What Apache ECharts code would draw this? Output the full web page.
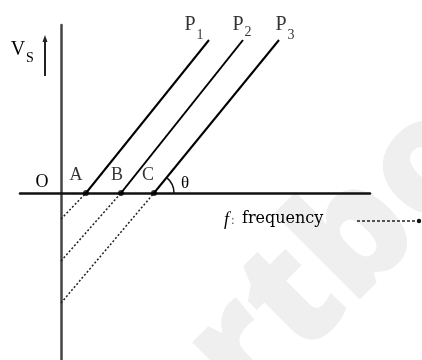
<!DOCTYPE html>
<html>
<head>
<meta charset="utf-8">
<script src="https://cdn.jsdelivr.net/npm/echarts@6/dist/echarts.min.js"></script>
<style>
  html, body { margin: 0; padding: 0; background: #fff; }
  #main { width: 422px; height: 360px; }
</style>
</head>
<body>
<div id="main"></div>
<script>
// stopping potential Vs against frequency f, three photo-surfaces P1..P3
// units: arbitrary
const plateNames = ['1', '2', '3'];
const pointNames = ['A', 'B', 'C'];
const thresholdF = [2.5, 6.0, 9.3];      // where each line cuts the f axis
const interceptV = [-2.6, -6.8, -11.0];  // where the dashed part meets the Vs axis
const topF = [14.8, 18.2, 21.8];         // upper end of each solid line
const topV = [15.3, 15.3, 15.3];

// label nudges (px), the scan does not place them uniformly
const plateLabelDx = [-19, -5, 2];
const plateSubDy = [7, 4, 7];
const pointLabelDx = [-10, -4, -6];

const chart = echarts.init(document.getElementById('main'));
const serif = '"Liberation Serif", "DejaVu Serif", serif';

const series = [];

// solid parts above the f axis
thresholdF.forEach((f0, i) => {
    series.push({
        type: 'line',
        data: [[f0, 0], [topF[i], topV[i]]],
        symbol: 'none',
        lineStyle: { color: '#000', width: 2 },
        z: 5
    });
    // dashed extension down to the Vs axis
    series.push({
        type: 'line',
        data: [[0, interceptV[i]], [f0, 0]],
        symbol: 'none',
        lineStyle: { color: '#222', width: 1.5, type: [2, 2] },
        z: 5
    });
});

// points A, B, C
series.push({
    type: 'scatter',
    data: thresholdF.map((f0, i) => ({
        value: [f0, 0],
        name: pointNames[i],
        label: { offset: [pointLabelDx[i], -1] }
    })),
    symbolSize: 6,
    itemStyle: { color: '#000' },
    label: {
        show: true,
        formatter: p => p.name,
        position: 'top',
        fontFamily: serif,
        fontSize: 18,
        color: '#000'
    },
    z: 6
});

// P labels at the upper ends
series.push({
    type: 'scatter',
    data: topF.map((f, i) => ({
        value: [f, topV[i]],
        name: plateNames[i],
        label: { offset: [plateLabelDx[i], 0] }
    })),
    symbolSize: 0,
    label: {
        show: true,
        formatter: 'P',
        position: 'top',
        fontFamily: serif,
        fontSize: 20,
        color: '#000'
    },
    z: 6
});
series.push({
    type: 'scatter',
    data: topF.map((f, i) => ({
        value: [f, topV[i]],
        name: plateNames[i],
        label: { offset: [plateLabelDx[i] + 10, plateSubDy[i]] }
    })),
    symbolSize: 0,
    label: {
        show: true,
        formatter: p => p.name,
        position: 'top',
        fontFamily: serif,
        fontSize: 14,
        color: '#000'
    },
    z: 6
});

// angle arc at C
series.push({
    type: 'custom',
    data: [[thresholdF[2], 0]],
    renderItem: (params, api) => {
        const c = api.coord([api.value(0), api.value(1)]);
        return {
            type: 'arc',
            shape: { cx: c[0], cy: c[1], r: 20, startAngle: -0.88, endAngle: 0 },
            style: { stroke: '#111', lineWidth: 1.5, fill: null }
        };
    },
    z: 6
});

const option = {
    animation: false,
    backgroundColor: '#fff',
    grid: { left: 20, right: 52, top: 25, bottom: 0 },
    xAxis: {
        type: 'value',
        min: -4.1,
        max: 30.9,
        axisLine: { show: true, onZero: true, lineStyle: { color: '#111', width: 2.5 } },
        axisTick: { show: false },
        axisLabel: { show: false },
        splitLine: { show: false }
    },
    yAxis: {
        type: 'value',
        min: -16.7,
        max: 16.8,
        axisLine: { show: true, onZero: true, lineStyle: { color: '#444', width: 2.5 } },
        axisTick: { show: false },
        axisLabel: { show: false },
        splitLine: { show: false }
    },
    graphic: [
        // watermark
        {
            type: 'text',
            x: 340, y: 255,
            rotation: Math.PI / 4,
            z: -10,
            style: {
                text: 'rtbo',
                font: '900 160px "Noto Sans", sans-serif',
                fill: '#efefef',
                align: 'center',
                verticalAlign: 'middle'
            }
        },
        { type: 'text', x: 42, y: 182, style: { text: 'O', font: '18px ' + serif, fill: '#000', align: 'center', verticalAlign: 'middle' } },
        { type: 'text', x: 185, y: 184, style: { text: 'θ', font: '17px ' + serif, fill: '#000', align: 'center', verticalAlign: 'middle' } },
        // Vs label with arrow
        { type: 'text', x: 18, y: 50, style: { text: 'V', font: '20px ' + serif, fill: '#000', align: 'center', verticalAlign: 'middle' } },
        { type: 'text', x: 30, y: 58, style: { text: 'S', font: '14px ' + serif, fill: '#000', align: 'center', verticalAlign: 'middle' } },
        { type: 'line', shape: { x1: 45, y1: 76, x2: 45, y2: 40 }, style: { stroke: '#222', lineWidth: 2 } },
        { type: 'polygon', shape: { points: [[45, 35], [42.5, 42], [47.5, 42]] }, style: { fill: '#222' } },
        // f: frequency with dashed arrow
        { type: 'text', x: 224, y: 220, style: { text: 'f', font: 'italic 18px ' + serif, fill: '#000', verticalAlign: 'middle' } },
        { type: 'text', x: 231, y: 221, style: { text: ':', font: '13px ' + serif, fill: '#555', verticalAlign: 'middle' } },
        { type: 'text', x: 242, y: 219, style: { text: 'frequency', font: '16px "DejaVu Serif", serif', fill: '#000', verticalAlign: 'middle' } },
        { type: 'line', shape: { x1: 357, y1: 221, x2: 417, y2: 221 }, style: { stroke: '#222', lineWidth: 1.5, lineDash: [3, 2] } },
        { type: 'circle', shape: { cx: 419, cy: 221, r: 2.2 }, style: { fill: '#111' } }
    ],
    series: series
};

chart.setOption(option);
</script>
</body>
</html>
